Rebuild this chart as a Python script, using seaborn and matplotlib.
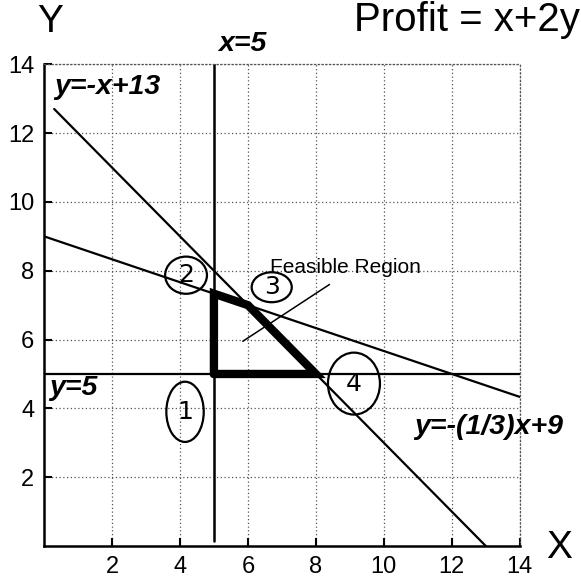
import matplotlib
matplotlib.use("Agg")
import matplotlib.pyplot as plt
from matplotlib.patches import Ellipse
import numpy as np
import pandas as pd
import seaborn as sns

# Constraint lines y = m*x + b, with the x-span each one is drawn over
line_names = ["y=-x+13", "y=-(1/3)x+9"]
line_slopes = [-1.0, -1.0 / 3.0]
line_intercepts = [13.0, 9.0]
line_x_start = [0.3, 0.0]
line_x_end = [13.0, 14.0]

# Horizontal / vertical constraints
x_min_constraint = 5
y_min_constraint = 5

# Corners of the feasible region (closed polygon)
region_x = [5, 5, 6, 8, 5]
region_y = [5, 22 / 3, 7, 5, 5]

# Axis ticks
x_ticks = [2, 4, 6, 8, 10, 12, 14]
y_ticks = [2, 4, 6, 8, 10, 12, 14]

sns.set_theme(style="white")
plt.rcParams["font.family"] = ["Liberation Sans", "DejaVu Sans"]

fig = plt.figure(figsize=(5.81, 5.84), dpi=100)
ax = fig.add_axes([0.0757, 0.065, 0.819, 0.825])

# sloped constraint lines
for name, m, b, x0, x1 in zip(line_names, line_slopes, line_intercepts,
                              line_x_start, line_x_end):
    xs = np.array([x0, x1])
    df = pd.DataFrame({"x": xs, "y": m * xs + b})
    sns.lineplot(data=df, x="x", y="y", ax=ax, color="black", lw=1.6,
                 sort=False, estimator=None)

# x = 5 and y = 5
sns.lineplot(x=[x_min_constraint, x_min_constraint], y=[0.15, 14], ax=ax,
             color="black", lw=1.8, sort=False, estimator=None)
sns.lineplot(x=[0, 14], y=[y_min_constraint, y_min_constraint], ax=ax,
             color="black", lw=1.6, sort=False, estimator=None)

# feasible region outline
sns.lineplot(x=region_x, y=region_y, ax=ax, color="black", lw=6,
             sort=False, estimator=None)
ax.lines[-1].set_solid_joinstyle("miter")

ax.set_xlim(0, 14)
ax.set_ylim(0, 14)
ax.set_xticks(x_ticks)
ax.set_yticks(y_ticks)
ax.set_xlabel("")
ax.set_ylabel("")
ax.grid(True, linestyle=(0, (1, 2)), color="#555555", lw=0.9)
ax.tick_params(direction="in", length=6, width=1.5, labelsize=17,
               colors="black", pad=7, bottom=True, left=True)
for side in ("left", "bottom"):
    ax.spines[side].set_color("black")
    ax.spines[side].set_linewidth(1.8)
for side in ("top", "right"):
    ax.spines[side].set_color("#555555")
    ax.spines[side].set_linewidth(0.9)
    ax.spines[side].set_linestyle((0, (1, 2)))

# equation labels
eq_style = dict(fontsize=20.5, fontweight="bold", fontstyle="italic",
                color="black")
ax.text(5.85, 14.6, "x=5", ha="center", va="center", clip_on=False, **eq_style)
ax.text(0.3, 13.35, "y=-x+13", ha="left", va="center", **eq_style)
ax.text(0.15, 4.6, "y=5", ha="left", va="center", **eq_style)
ax.text(10.9, 3.45, "y=-(1/3)x+9", ha="left", va="center", clip_on=False,
        **eq_style)

# feasible region label with pointer
ax.text(6.65, 8.1, "Feasible Region", ha="left", va="center", fontsize=15,
        color="black")
ax.plot([8.4, 5.85], [7.6, 5.95], color="black", lw=1.1)

# numbered corner marks
marks = [("1", 4.15, 3.9, 1.1, 1.75),
         ("2", 4.18, 7.87, 1.23, 1.08),
         ("3", 6.7, 7.52, 1.18, 0.87),
         ("4", 9.12, 4.72, 1.53, 1.8)]
for label, cx, cy, w, h in marks:
    ax.add_patch(Ellipse((cx, cy), w, h, fill=False, edgecolor="black",
                         lw=1.6))
    ax.text(cx, cy, label, ha="center", va="center", fontsize=18,
            color="black", fontfamily=["DejaVu Sans"])

# titles / axis letters
fig.text(0.998, 0.965, "Profit = x+2y", ha="right", va="center",
         fontsize=29, color="black")
fig.text(0.086, 0.962, "Y", ha="center", va="center", fontsize=28,
         color="black")
fig.text(0.963, 0.062, "X", ha="center", va="center", fontsize=28,
         color="black")

fig.savefig("out.png", dpi=100)
